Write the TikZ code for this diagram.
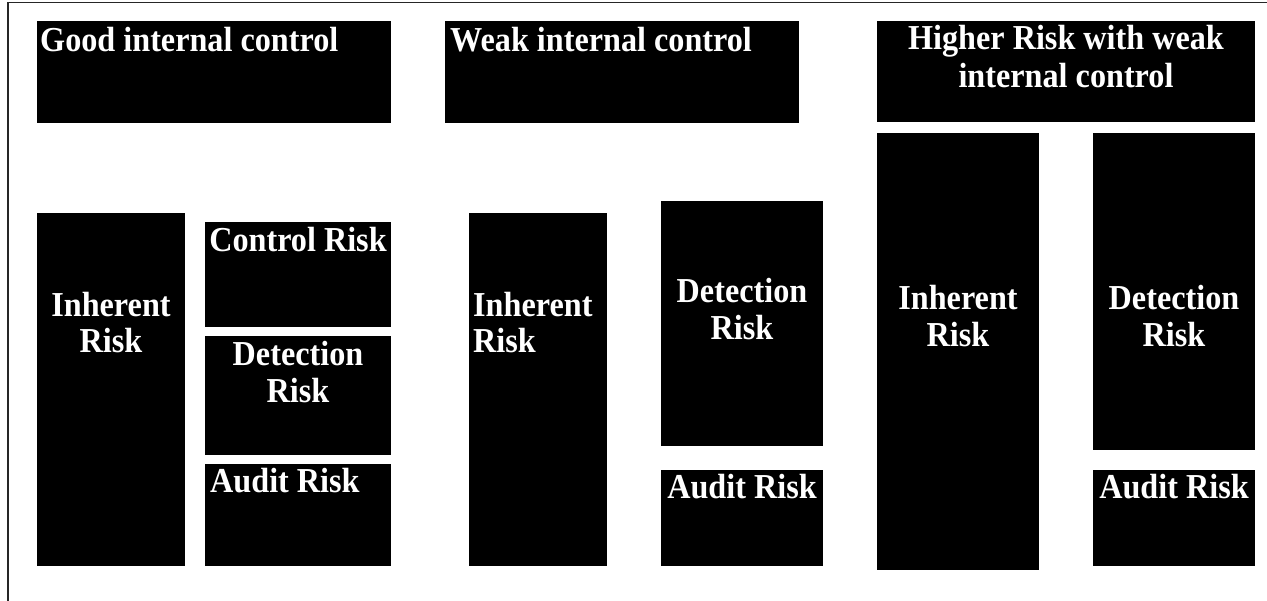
\documentclass[tikz,border=0pt]{standalone}
\usepackage{fontspec}
\setmainfont{Liberation Serif}
\newfontfamily\boxfont[FakeStretch=0.92]{Liberation Serif}
\begin{document}
\begin{tikzpicture}[x=1pt,y=-1pt,
  blk/.style={fill=black,draw=none,inner sep=0pt,anchor=north west},
  txt/.style={text=white,inner sep=0pt,font=\boxfont\bfseries\fontsize{35}{39}\selectfont},
  frame/.style={line width=1.8pt,draw=black!85}]
\useasboundingbox (0,0) rectangle (1267,601);
% frame
\coordinate (fTR) at (1267,2.5);
\coordinate (fTL) at (8,2.5);
\coordinate (fBL) at (8,601);
\draw[frame] (fTR) -- (fTL) -- (fBL);
% header boxes
\node[blk,minimum width=354,minimum height=102] (good) at (37,21) {};
\node[blk,minimum width=354,minimum height=102] (weak) at (445,21) {};
\node[blk,minimum width=378,minimum height=101] (high) at (877,21) {};
% column 1
\node[blk,minimum width=148,minimum height=353] (ir1) at (37,213) {};
\node[blk,minimum width=186,minimum height=105] (cr1) at (205,222) {};
\node[blk,minimum width=186,minimum height=119] (dr1) at (205,336) {};
\node[blk,minimum width=186,minimum height=102] (ar1) at (205,464) {};
% column 2
\node[blk,minimum width=138,minimum height=353] (ir2) at (469,213) {};
\node[blk,minimum width=162,minimum height=245] (dr2) at (661,201) {};
\node[blk,minimum width=162,minimum height=96] (ar2) at (661,470) {};
% column 3
\node[blk,minimum width=162,minimum height=437] (ir3) at (877,133) {};
\node[blk,minimum width=162,minimum height=317] (dr3) at (1093,133) {};
\node[blk,minimum width=162,minimum height=96] (ar3) at (1093,470) {};
% texts
\node[txt,anchor=base west] (tgood) at (40,52) {Good internal control};
\node[txt,anchor=base west] (tweak) at (450,52) {Weak internal control};
\node[txt,anchor=base] (thigh1) at (1066,50) {Higher Risk with weak};
\node[txt,anchor=base] (thigh2) at (1066,88) {internal control};
\node[txt,anchor=base] (tir1a) at (111,317) {Inherent};
\node[txt,anchor=base] (tir1b) at (111,353) {Risk};
\node[txt,anchor=base] (tcr1) at (298,252) {Control Risk};
\node[txt,anchor=base] (tdr1a) at (298,366) {Detection};
\node[txt,anchor=base] (tdr1b) at (298,403) {Risk};
\node[txt,anchor=base west] (tar1) at (210,493) {Audit Risk};
\node[txt,anchor=base west] (tir2a) at (473,317) {Inherent};
\node[txt,anchor=base west] (tir2b) at (473,353) {Risk};
\node[txt,anchor=base] (tdr2a) at (742,303) {Detection};
\node[txt,anchor=base] (tdr2b) at (742,340) {Risk};
\node[txt,anchor=base] (tar2) at (742,499) {Audit Risk};
\node[txt,anchor=base] (tir3a) at (958,310) {Inherent};
\node[txt,anchor=base] (tir3b) at (958,347) {Risk};
\node[txt,anchor=base] (tdr3a) at (1174,310) {Detection};
\node[txt,anchor=base] (tdr3b) at (1174,347) {Risk};
\node[txt,anchor=base] (tar3) at (1174,499) {Audit Risk};
\end{tikzpicture}
\end{document}
